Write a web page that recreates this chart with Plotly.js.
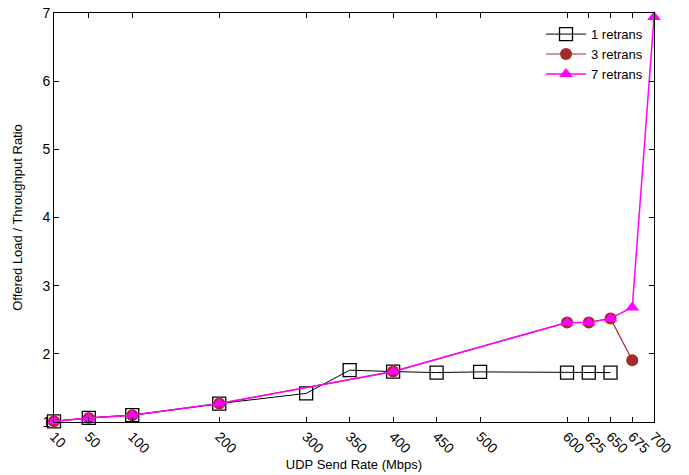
<!DOCTYPE html>
<html>
<head>
<meta charset="utf-8">
<script src="https://cdn.plot.ly/plotly-3.0.1.min.js"></script>
<style>html,body{margin:0;padding:0;background:#fff}#chart{width:689px;height:475px}</style>
</head>
<body>
<div id="chart"></div>
<script>
var xTicks = [10, 50, 100, 200, 300, 350, 400, 450, 500, 600, 625, 650, 675, 700];

var rate1 = [10, 50, 100, 200, 300, 350, 400, 450, 500, 600, 625, 650];
var ratio1 = [1.01, 1.06, 1.10, 1.27, 1.42, 1.76, 1.74, 1.725, 1.735, 1.725, 1.725, 1.725];

var rate3 = [10, 50, 100, 200, 400, 600, 625, 650, 675];
var ratio3 = [1.01, 1.06, 1.10, 1.27, 1.74, 2.46, 2.46, 2.52, 1.905];

var rate7 = [10, 50, 100, 200, 400, 600, 625, 650, 675, 700];
var ratio7 = [1.01, 1.06, 1.10, 1.27, 1.74, 2.46, 2.46, 2.52, 2.68, 6.94];

var traces = [
  {x: rate1, y: ratio1, name: '1 retrans', type: 'scatter', mode: 'lines+markers', cliponaxis: false,
   line: {color: '#000000', width: 1},
   marker: {symbol: 'square-open', size: 13, color: '#000000', line: {width: 1.3, color: '#000000'}}},
  {x: rate3, y: ratio3, name: '3 retrans', type: 'scatter', mode: 'lines+markers', cliponaxis: false,
   line: {color: '#a52a2a', width: 1.2},
   marker: {symbol: 'circle', size: 12, color: '#a52a2a'}},
  {x: rate7, y: ratio7, name: '7 retrans', type: 'scatter', mode: 'lines+markers', cliponaxis: false,
   line: {color: '#ff00ff', width: 1.5},
   marker: {symbol: 'triangle-up', size: 12, color: '#ff00ff'}}
];

var font = {family: 'Liberation Sans, Arial, sans-serif', size: 13, color: '#000'};

var layout = {
  width: 689, height: 475,
  margin: {l: 54, r: 35, t: 13, b: 53},
  paper_bgcolor: '#fff', plot_bgcolor: '#fff',
  font: font,
  showlegend: true,
  legend: {x: 0.99, y: 0.985, xanchor: 'right', yanchor: 'top', bgcolor: 'rgba(255,255,255,0)',
           font: {family: font.family, size: 13, color: '#000'}, tracegroupgap: 0, itemwidth: 40},
  xaxis: {
    range: [10, 700], tickmode: 'array', tickvals: xTicks, ticktext: xTicks.map(String),
    tickangle: 45, ticks: 'inside', ticklen: 5, tickcolor: '#000', tickwidth: 1,
    showline: true, linecolor: '#000', linewidth: 1, mirror: 'ticks', showgrid: false, zeroline: false,
    tickfont: {family: font.family, size: 14, color: '#000'},
    title: {text: 'UDP Send Rate (Mbps)', font: {family: font.family, size: 13, color: '#000'}, standoff: 1}
  },
  yaxis: {
    range: [1, 7], tickmode: 'array', tickvals: [1, 2, 3, 4, 5, 6, 7],
    ticks: 'inside', ticklen: 5, tickcolor: '#000', tickwidth: 1,
    showline: true, linecolor: '#000', linewidth: 1, mirror: 'ticks', showgrid: false, zeroline: false,
    tickfont: {family: font.family, size: 14, color: '#000'},
    title: {text: 'Offered Load / Throughput Ratio', font: {family: font.family, size: 13, color: '#000'}, standoff: 16}
  }
};

Plotly.newPlot('chart', traces, layout, {displayModeBar: false, staticPlot: true});
</script>
</body>
</html>
